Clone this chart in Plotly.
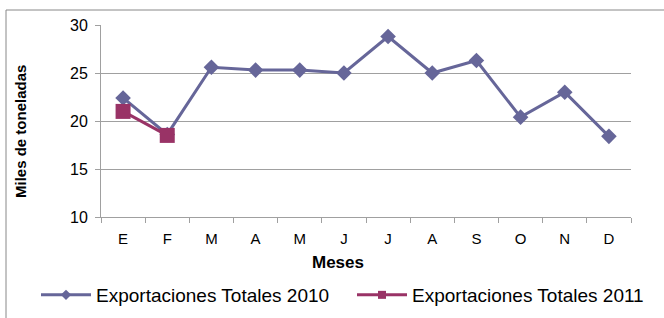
import plotly.graph_objects as go

meses = ["E", "F", "M", "A", "M", "J", "J", "A", "S", "O", "N", "D"]
cat_ids = [f"{i}" for i in range(12)]
exp_2010 = [22.4, 18.6, 25.6, 25.3, 25.3, 25.0, 28.8, 25.0, 26.3, 20.4, 23.0, 18.4]
exp_2011 = [21.0, 18.5]
y_ticks = [10, 15, 20, 25, 30]
series_names = ["Exportaciones Totales 2010", "Exportaciones Totales 2011"]
colors = ["#666699", "#993366"]

W, H = 664, 318
L, R, T, B = 101, 33, 25, 101
pw, ph = W - L - R, H - T - B

def px_x(x):
    return (x - L) / pw

def px_y(y):
    return (H - B - y) / ph

fig = go.Figure()
fig.add_trace(go.Scatter(
    x=cat_ids, y=exp_2010, mode="lines+markers", name=series_names[0], showlegend=False,
    line=dict(color=colors[0], width=3),
    marker=dict(symbol="diamond", size=12, color=colors[0]),
))
fig.add_trace(go.Scatter(
    x=cat_ids[:len(exp_2011)], y=exp_2011, mode="lines+markers", name=series_names[1], showlegend=False,
    line=dict(color=colors[1], width=3),
    marker=dict(symbol="square", size=15, color=colors[1]),
))
# legend entries with smaller symbols, one legend each for exact placement
for nm, c, sym, lg in zip(series_names, colors, ["diamond", "square"], ["legend", "legend2"]):
    fig.add_trace(go.Scatter(
        x=[None], y=[None], mode="lines+markers", name=nm, showlegend=True, legend=lg,
        line=dict(color=c, width=3), marker=dict(symbol=sym, size=8, color=c),
    ))

leg_common = dict(orientation="h", xref="container", yref="container", xanchor="left",
                  y=1 - 295 / H, yanchor="middle", font=dict(size=19), itemwidth=50,
                  bgcolor="rgba(0,0,0,0)")

fig.update_layout(
    width=W, height=H,
    margin=dict(l=L, r=R, t=T, b=B, autoexpand=False),
    paper_bgcolor="white", plot_bgcolor="white",
    font=dict(family="Liberation Sans, Arial, sans-serif", color="black", size=14),
    showlegend=True,
    legend=dict(x=36 / W, **leg_common),
    legend2=dict(x=352 / W, **leg_common),
    xaxis=dict(
        type="category", categoryorder="array", categoryarray=cat_ids,
        tickvals=cat_ids, ticktext=meses,
        range=[-0.5, 11.5], showgrid=False, showline=True, linecolor="#a0a0a0", linewidth=1,
        ticks="outside", tickson="boundaries", ticklen=5, tickcolor="#a0a0a0",
        tickfont=dict(size=15), zeroline=False, ticklabelstandoff=8,
    ),
    yaxis=dict(
        range=[10, 30], tickvals=y_ticks, showgrid=True, gridcolor="#a0a0a0", gridwidth=1,
        showline=True, linecolor="#a0a0a0", linewidth=1,
        ticks="outside", ticklen=5, tickcolor="#a0a0a0", tickfont=dict(size=16),
        zeroline=False, ticklabelstandoff=4,
    ),
    annotations=[
        dict(text="<b>Miles de toneladas</b>", textangle=-90, xref="paper", yref="paper",
             x=px_x(20), y=px_y(132), xanchor="center", yanchor="middle", showarrow=False,
             font=dict(size=15)),
        dict(text="<b>Meses</b>", xref="paper", yref="paper",
             x=px_x(338), y=px_y(262), xanchor="center", yanchor="middle", showarrow=False,
             font=dict(size=17)),
    ],
    shapes=[
        dict(type="rect", xref="paper", yref="paper", x0=px_x(6), x1=px_x(700), y0=px_y(340), y1=px_y(10),
             line=dict(color="#888888", width=1), layer="below"),
    ],
)

fig.write_html("out.html", config={"displayModeBar": False},
               post_script="document.body.style.margin='0';")
